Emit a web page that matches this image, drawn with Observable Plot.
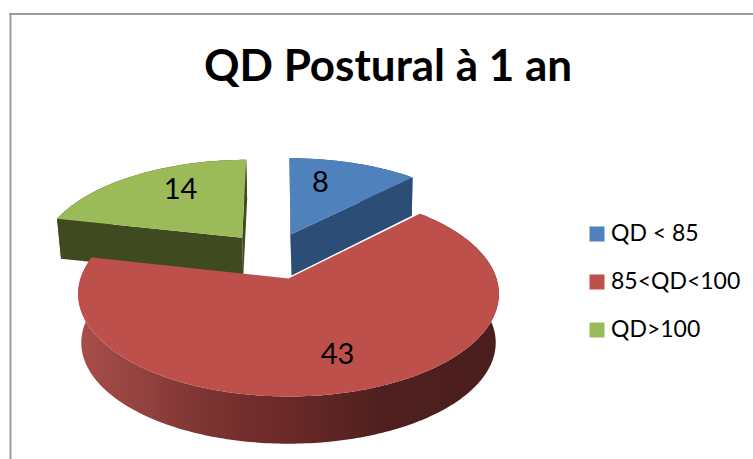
<!DOCTYPE html>
<html>
<head>
<meta charset="utf-8">
<style>
html,body{margin:0;padding:0;background:#fff}
svg{display:block}
</style>
<script src="https://cdn.jsdelivr.net/npm/d3@7"></script>
<script src="https://cdn.jsdelivr.net/npm/@observablehq/plot@0.6"></script>
</head>
<body>
<div id="chart"></div>
<script>
const categories = ["QD < 85", "85<QD<100", "QD>100"];
const values = [8, 43, 14];
const topColors = ["#4F81BD", "#BE504C", "#9BBB59"];
const wallColors = ["#2C4D75", "url(#redWall)", "#404A21"];
const title = "QD Postural à 1 an";

// Layout of the drawing (frame units), separate from the data
const frame = {w: 753, h: 459};
const views = [
  {ax: 290, ay: 234, A: 198.4, B: 90, G: -1.2, k: .18, sx: .986, sy: 1.047, d: 41, sh: 1, lx: 320, ly: 182},
  {ax: 288, ay: 278, A: 208, B: 100.3, G: 0, k: .15, sx: .985, sy: .985, d: 49, sh: 0, lx: 337, ly: 354},
  {ax: 241.7, ay: 237.3, A: 198, B: 92, G: 4.7, k: .18, sx: .984, sy: 1, d: 40, sh: 1, lx: 180, ly: 189}
];
const legendY = [233.5, 281.5, 329.5];

const arcs = d3.pie().sort(null).startAngle(0).endAngle(2 * Math.PI)(values);

function project(v, t, r, low) {
  const s = r * Math.sin(t), c = r * Math.cos(t), w = 1 + v.k * c;
  const dx = (v.A * s + v.G * c) / w, dy = -(v.B * c) / w;
  return low
    ? {x: v.ax + dx * v.sx + v.sh, y: v.ay + dy * v.sy + v.d}
    : {x: v.ax + dx, y: v.ay + dy};
}
function arcAngles(a) {
  const n = Math.ceil((a.endAngle - a.startAngle) * 60);
  return d3.range(n + 1).map(i => a.startAngle + (a.endAngle - a.startAngle) * i / n);
}
const topFace = (a, v) => [project(v, 0, 0, false), ...arcAngles(a).map(t => project(v, t, 1, false))];
const rimWall = (a, v) => [
  ...arcAngles(a).map(t => project(v, t, 1, false)),
  ...arcAngles(a).reverse().map(t => project(v, t, 1, true))
];
const cutWall = (t, v) => [
  project(v, t, 0, false), project(v, t, 1, false),
  project(v, t, 1, true), project(v, t, 0, true)
];
const face = (pts, fill) => Plot.line(pts, {x: "x", y: "y", fill, stroke: "none", curve: "linear"});

const drawOrder = [2, 0, 1];
const sliceMarks = drawOrder.flatMap(i => {
  const a = arcs[i], v = views[i];
  return [
    face(rimWall(a, v), wallColors[i]),
    i === 1 ? null : face(cutWall(a.startAngle, v), wallColors[i]),
    i === 1 ? null : face(cutWall(a.endAngle, v), wallColors[i]),
    face(topFace(a, v), topColors[i])
  ];
});

const gradientStops = [
  [0, "#A84E4A"], [.18, "#8F3F3C"], [.3, "#7C3432"], [.5, "#6A2927"],
  [.72, "#4F201F"], [1, "#4A1E1D"]
];
function gradientDefs() {
  const defs = d3.create("svg:defs");
  const g = defs.append("linearGradient").attr("id", "redWall")
    .attr("x1", 0).attr("x2", 1).attr("y1", 0).attr("y2", 0);
  gradientStops.forEach(([o, c]) => g.append("stop").attr("offset", o).attr("stop-color", c));
  return defs.node();
}

const legend = categories.map((name, i) => ({name, color: topColors[i], y: legendY[i]}));
const labels = values.map((value, i) => ({value, x: views[i].lx, y: views[i].ly}));
const font = "Lato, 'Noto Sans', sans-serif";

const chart = Plot.plot({
  width: frame.w, height: frame.h, margin: 0,
  x: {domain: [0, frame.w], axis: null},
  y: {domain: [frame.h, 0], axis: null},
  style: {background: "#fff", fontFamily: font},
  marks: [
    gradientDefs,
    Plot.ruleX([10], {y1: 13.5, y2: frame.h, stroke: "#9C9C9C", strokeWidth: 2}),
    Plot.ruleY([13.5], {x1: 9, x2: frame.w, stroke: "#9C9C9C", strokeWidth: 2}),
    ...sliceMarks.filter(Boolean),
    Plot.text([title], {x: 387.5, y: 66, text: d => d, fontSize: 44, fontWeight: 700, fill: "#000", textAnchor: "middle", lineAnchor: "middle"}),
    Plot.text(labels, {x: "x", y: "y", text: d => String(d.value), fontSize: 29, fill: "#000", textAnchor: "middle", lineAnchor: "middle"}),
    Plot.dot(legend, {x: 596.5, y: "y", symbol: "square", r: 8.46, fill: "color", stroke: "none"}),
    Plot.text(legend, {x: 610.5, y: "y", text: "name", fontSize: 23, fill: "#000", textAnchor: "start", lineAnchor: "middle"})
  ]
});
document.getElementById("chart").append(chart);
</script>
</body>
</html>
